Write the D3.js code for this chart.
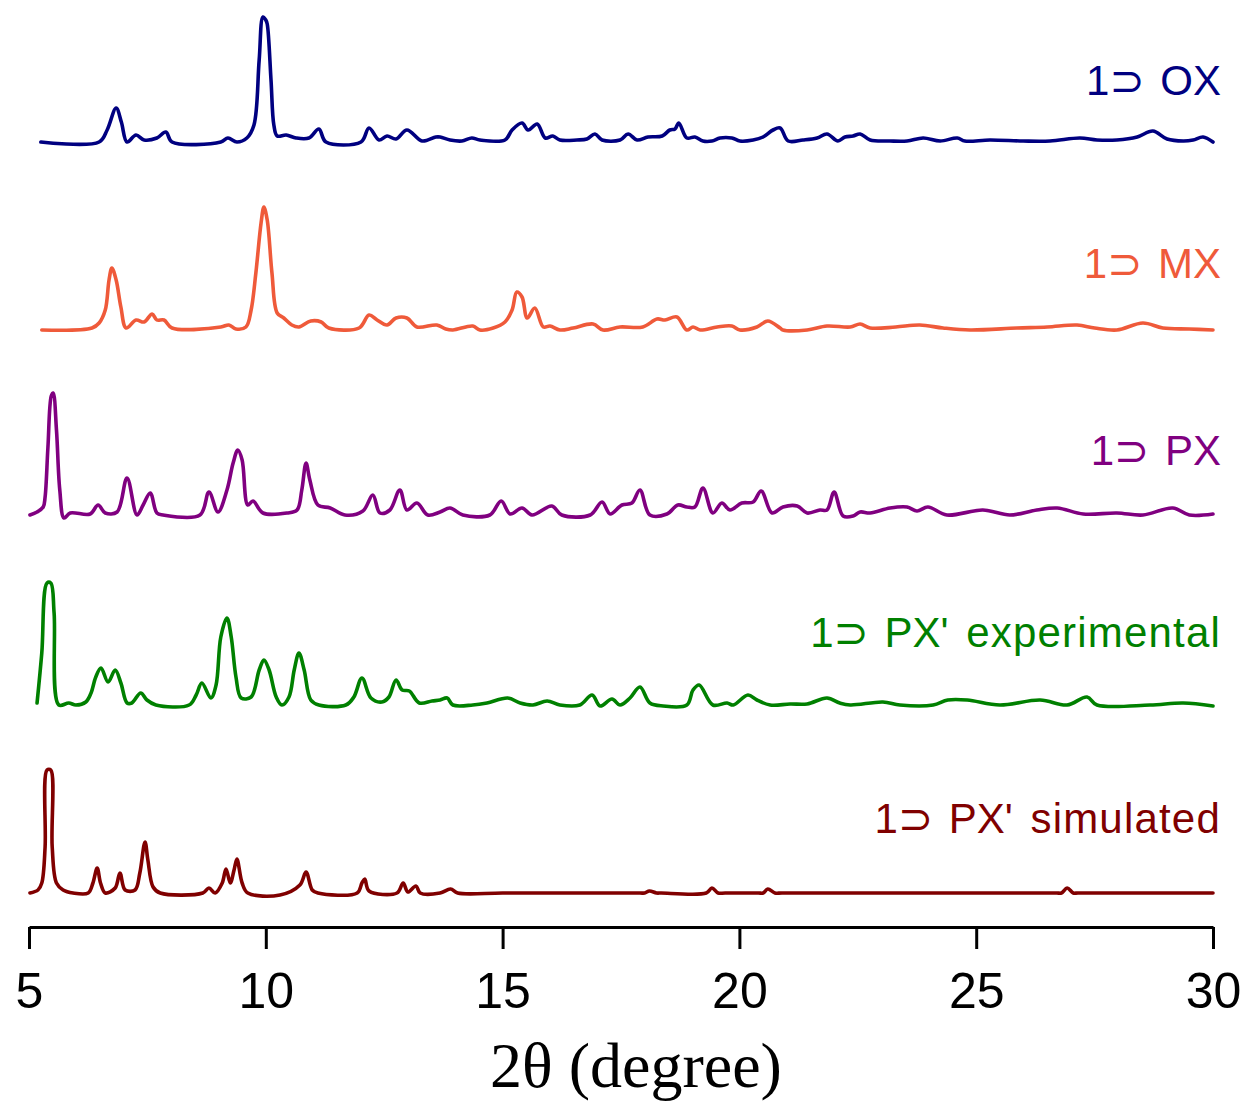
<!DOCTYPE html>
<html>
<head>
<meta charset="utf-8">
<script src="https://cdnjs.cloudflare.com/ajax/libs/d3/7.8.5/d3.min.js"></script>
<style>
  body { margin: 0; background: #fff; }
  svg { display: block; }
</style>
</head>
<body>
<script>
// PXRD patterns, 2theta (degree) vs intensity (a.u., relative to each pattern's own baseline)
const ticks2theta = [5, 10, 15, 20, 25, 30];

const seriesNames = ["1⊃ OX", "1⊃ MX", "1⊃ PX", "1⊃ PX' experimental", "1⊃ PX' simulated"];
const seriesColors = ["#000080", "#ef5a3a", "#800080", "#008000", "#800000"];
// vertical stacking offset of each pattern (a.u.)
const seriesOffsets = [785, 599, 413, 222, 34];

const ox = [[5.25,0],[6.48,0],[6.65,12],[6.84,34],[6.95,20],[7.07,0],[7.26,7],[7.43,2],[7.70,4],[7.89,10],[8.02,0],
  [9.05,0],[9.20,4],[9.39,0],[9.60,4],[9.75,17],[9.86,82],[9.94,125],[10.0,122],[10.03,118],[10.11,62],[10.17,17],
  [10.24,6],[10.43,7],[10.64,4],[10.91,4],[11.12,13],[11.27,0],[12.01,0],[12.18,14],[12.39,2],[12.56,6],[12.75,3],
  [12.98,12],[13.30,1],[13.59,5],[13.68,5],[13.89,2],[14.14,1],[14.35,4],[14.52,2],[15.05,2],[15.20,12],[15.41,19],
  [15.54,12],[15.73,18],[15.90,4],[16.06,6],[16.21,2],[16.57,2],[16.78,3],[16.95,8],[17.10,2],[17.48,2],[17.65,8],
  [17.84,2],[18.07,5],[18.37,6],[18.53,12],[18.64,13],[18.72,19],[18.89,4],[19.06,5],[19.23,1],[19.42,1],[19.59,4],
  [19.84,4],[20.01,1],[20.29,2],[20.50,5],[20.71,12],[20.86,14],[21.03,1],[21.34,2],[21.64,4],[21.85,8],[22.08,1],
  [22.23,5],[22.40,6],[22.55,8],[22.76,2],[23.18,1],[23.54,1],[23.88,4],[24.24,1],[24.60,4],[24.76,1],[25.29,2],
  [25.99,1],[26.56,1],[27.19,4],[27.55,2],[27.97,2],[28.40,5],[28.73,11],[29.03,3],[29.37,1],[29.58,2],[29.79,5],[30.0,0]];

const mx = [[5.27,-2],[6.33,0],[6.48,5],[6.61,18],[6.69,48],[6.75,60],[6.84,48],[6.94,21],[7.05,0],[7.26,8],[7.43,6],
  [7.60,14],[7.70,8],[7.85,8],[8.02,0],[9.05,1],[9.22,3],[9.37,-1],[9.58,1],[9.69,18],[9.79,55],[9.90,105],[9.96,121],
  [10.03,108],[10.13,55],[10.24,15],[10.38,10],[10.55,3],[10.70,1],[10.95,7],[11.17,6],[11.33,0],[11.97,0],[12.18,13],
  [12.35,8],[12.56,3],[12.75,10],[12.98,10],[13.19,1],[13.61,3],[13.80,-1],[13.95,-2],[14.37,2],[14.52,-2],[14.80,0],
  [15.05,6],[15.20,18],[15.30,36],[15.41,31],[15.52,10],[15.68,20],[15.86,1],[16.00,2],[16.21,-2],[16.49,0],[16.91,4],
  [17.12,-2],[17.48,1],[17.96,1],[18.26,9],[18.43,8],[18.68,11],[18.89,-2],[19.02,1],[19.17,-2],[19.53,1],[19.84,2],
  [20.01,-2],[20.37,1],[20.60,7],[20.86,0],[20.92,-2],[21.43,-2],[21.85,2],[22.34,1],[22.55,4],[22.76,0],[23.30,1],
  [23.81,3],[24.30,0],[24.87,-2],[25.86,0],[26.50,1],[27.13,3],[27.50,0],[27.97,-2],[28.52,5],[28.94,0],[29.50,-1],[30.0,-2]];

const px = [[5.02,-1],[5.17,2],[5.30,7],[5.34,17],[5.40,67],[5.47,118],[5.51,121],[5.58,84],[5.65,24],[5.74,-4],
  [5.87,1],[6.29,0],[6.46,9],[6.61,1],[6.86,2],[7.07,36],[7.28,-1],[7.41,9],[7.56,21],[7.70,1],[7.83,-1],[8.61,-1],
  [8.80,22],[8.99,2],[9.18,24],[9.31,51],[9.41,64],[9.50,54],[9.62,9],[9.73,13],[9.94,1],[10.45,1],[10.66,4],[10.76,24],
  [10.85,51],[10.93,34],[11.10,9],[11.36,6],[11.67,-1],[12.05,3],[12.26,19],[12.41,1],[12.62,4],[12.83,24],[12.98,4],
  [13.19,11],[13.42,-1],[13.68,2],[13.89,6],[14.16,-1],[14.73,-1],[14.97,13],[15.16,0],[15.41,6],[15.62,-1],[16.04,8],
  [16.25,-1],[16.85,-1],[17.10,12],[17.27,0],[17.52,9],[17.73,11],[17.90,24],[18.11,-1],[18.47,0],[18.70,9],[18.89,7],
  [19.06,7],[19.23,26],[19.44,1],[19.63,11],[19.80,4],[20.05,11],[20.29,12],[20.46,23],[20.69,1],[20.92,7],[21.22,8],
  [21.43,1],[21.70,4],[21.85,4],[22.00,22],[22.19,-2],[22.40,-2],[22.55,2],[22.76,1],[23.18,6],[23.54,7],[23.75,3],
  [23.98,7],[24.38,-1],[25.14,4],[25.71,-1],[26.28,4],[26.71,6],[27.26,0],[27.97,1],[28.52,-1],[29.15,6],[29.50,-1],[30.0,0]];

const pxExp = [[5.17,2],[5.27,52],[5.38,122],[5.46,122],[5.53,92],[5.63,0],[5.84,2],[5.99,0],[6.20,3],[6.31,12],
  [6.41,28],[6.52,37],[6.67,23],[6.82,35],[6.94,22],[7.07,2],[7.17,2],[7.36,12],[7.49,5],[7.68,0],[8.38,0],[8.53,10],
  [8.65,22],[8.84,7],[8.95,20],[9.05,68],[9.18,87],[9.27,68],[9.37,28],[9.48,7],[9.69,8],[9.86,35],[9.96,45],[10.07,35],
  [10.22,8],[10.34,0],[10.49,8],[10.60,35],[10.70,52],[10.81,35],[10.95,5],[11.12,0],[11.69,0],[11.86,8],[12.03,27],
  [12.22,7],[12.45,3],[12.60,8],[12.75,25],[12.88,15],[13.03,14],[13.24,2],[13.51,4],[13.68,5],[13.83,7],[13.95,0],
  [14.37,0],[14.67,2],[15.11,7],[15.37,2],[15.64,0],[15.94,4],[16.21,0],[16.63,0],[16.89,10],[17.06,-1],[17.31,6],
  [17.48,0],[17.69,7],[17.90,18],[18.11,2],[18.39,-1],[18.89,0],[19.02,15],[19.15,20],[19.44,0],[19.74,2],[19.87,0],
  [20.18,10],[20.37,5],[20.65,0],[21.07,1],[21.43,1],[21.85,7],[22.12,2],[22.34,0],[23.03,3],[23.39,0],[24.09,0],
  [24.40,5],[24.81,5],[25.50,0],[26.35,5],[26.92,0],[27.34,8],[27.55,0],[28.67,0],[29.37,2],[30.0,-1]];

const pxSim = [[5.02,0],[5.19,3],[5.27,10],[5.34,46],[5.38,123],[5.46,123],[5.49,46],[5.58,10],[5.72,3],[5.93,0],
  [6.25,0],[6.35,10],[6.44,25],[6.51,10],[6.61,0],[6.82,5],[6.92,20],[7.03,3],[7.24,3],[7.34,20],[7.45,51],[7.51,33],
  [7.62,6],[7.77,0],[8.67,0],[8.80,5],[8.93,0],[9.08,10],[9.16,24],[9.25,10],[9.33,23],[9.39,34],[9.50,10],[9.62,0],
  [10.30,-2],[10.72,8],[10.85,21],[10.98,3],[11.10,0],[11.93,0],[12.03,10],[12.09,14],[12.18,2],[12.77,0],[12.90,10],
  [13.00,1],[13.17,7],[13.26,0],[13.68,0],[13.90,4],[14.05,0],[15.0,0],[16.5,0],[17.9,0],[18.0,0],[18.10,2],[18.25,0],
  [18.35,0],[19.30,0],[19.42,5],[19.55,0],[19.7,0],[20.4,0],[20.50,0],[20.60,4],[20.75,0],[20.9,0],[22.5,0],[24.0,0],
  [25.5,0],[26.70,0],[26.80,0],[26.92,5],[27.05,0],[27.15,0],[28.5,0],[30.0,0]];

const patterns = [ox, mx, px, pxExp, pxSim];

var width = 1248;
var height = 1101;
var margins = {left: 29, right: 35, bottom: 174};
var axisY = height - margins.bottom;
// how far above its baseline each label sits (px)
var labelLift = [47, 50, 49, 58, 60];

var svg = d3.select('body')
    .append('svg')
    .attr('width', width)
    .attr('height', height);

let x_scale = d3.scaleLinear()
    .domain([5, 30])
    .range([margins.left, width - margins.right]);

let y_scale = d3.scaleLinear()
    .domain([0, axisY])
    .range([axisY, 0]);

let line = d3.line()
    .x(d => x_scale(d[0]))
    .y(d => y_scale(d[1]))
    .curve(d3.curveCatmullRom.alpha(0.5));

patterns.forEach(function(pts, i) {
    let off = seriesOffsets[i];
    svg.append('path')
        .datum(pts.map(p => [p[0], p[1] + off]))
        .attr('fill', 'none')
        .attr('stroke', seriesColors[i])
        .attr('stroke-width', 3.6)
        .attr('stroke-linejoin', 'round')
        .attr('stroke-linecap', 'round')
        .attr('d', line);

    let label = svg.append('text')
        .attr('x', 1221)
        .attr('y', y_scale(off) - labelLift[i])
        .attr('text-anchor', 'end')
        .attr('font-family', 'Liberation Sans, Arial, DejaVu Sans, sans-serif')
        .attr('font-size', '42px')
        .attr('word-spacing', '4px')
        .attr('fill', seriesColors[i]);

    // the prime labels: gap after the apostrophe, slightly wider lowercase
    let parts = seriesNames[i].split("' ");
    if (parts.length == 2) {
        label.append('tspan').text(parts[0] + "'");
        label.append('tspan')
            .attr('dx', '0.42em')
            .attr('letter-spacing', '1.2px')
            .text(parts[1]);
    } else {
        label.text(seriesNames[i]);
    }
});

let x_axis = d3.axisBottom(x_scale)
    .tickValues(ticks2theta)
    .tickSize(22)
    .tickSizeOuter(0)
    .tickPadding(23);

let gx = svg.append('g')
    .attr('transform', 'translate(0,' + axisY + ')')
    .call(x_axis);

gx.select('.domain').attr('stroke', '#000').attr('stroke-width', 3);
gx.selectAll('.tick line').attr('stroke', '#000').attr('stroke-width', 3);
gx.selectAll('.tick text')
    .attr('fill', '#000')
    .attr('font-family', 'Liberation Sans, Arial, sans-serif')
    .attr('font-size', '50px');

svg.append('text')
    .attr('x', 636)
    .attr('y', 1087)
    .attr('text-anchor', 'middle')
    .attr('font-family', 'Liberation Serif, Times New Roman, serif')
    .attr('font-size', '64px')
    .text('2θ (degree)');
</script>
</body>
</html>
